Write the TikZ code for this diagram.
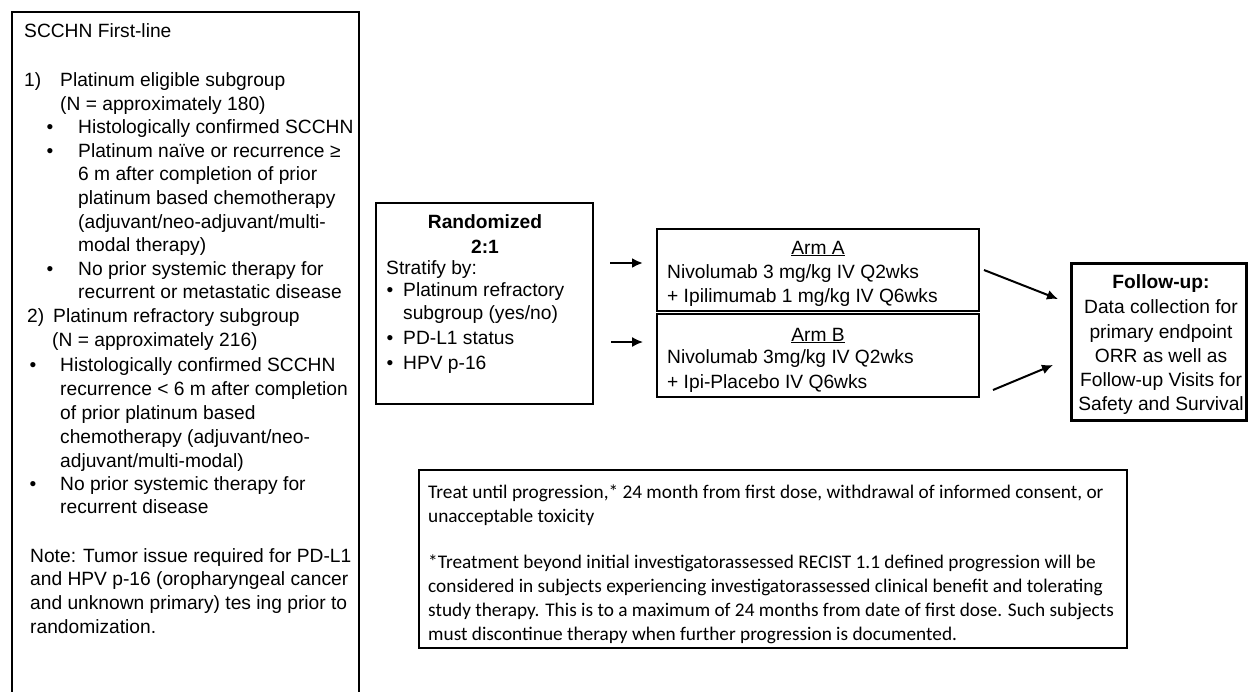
\documentclass[tikz,border=0pt]{standalone}
\usepackage{fontspec}
\setmainfont{Liberation Sans}
\newfontfamily\calfont{Carlito}
\usetikzlibrary{arrows.meta,fit}
\newcommand\ar{\fontsize{19.2}{23.6}\selectfont}
\newcommand\cb{\calfont\fontsize{19.3}{24}\selectfont}
\newcommand\Ln[4]{\node[txt] (#1) at (#2,#3) {#4};}
\newcommand\Bu[3]{\node[bul] (#1) at (#2,#3) {\textbullet};}
\newcommand\Cl[4]{\node[ctxt] (#1) at (#2,#3) {#4};}
\begin{document}
\begin{tikzpicture}[x=1pt,y=-1pt,
  box/.style={draw=black, line width=1.3pt, inner sep=0pt},
  txt/.style={inner sep=0pt, anchor=base west, font=\ar},
  txtc/.style={inner sep=0pt, anchor=base, font=\ar},
  bul/.style={inner sep=0pt, anchor=base, font=\ar},
  ctxt/.style={inner sep=0pt, anchor=base west, font=\cb},
  arr/.style={-{Latex[length=11pt,width=10pt]}, line width=2pt}]
\useasboundingbox (0,0) rectangle (1248,691);
\fill[white] (0,0) rectangle (1248,691);

% ---------- left eligibility box ----------
\node[box, fit={(12,12) (359,720)}] (elig) {};
\Ln{e0}{24}{37}{SCCHN First-line}
\Ln{e1n}{24}{86}{1)}
\Ln{e1}{60}{86}{Platinum eligible subgroup}
\Ln{e2}{60}{110}{(N = approximately 180)}
\Bu{b1}{50}{133}
\Ln{e3}{78}{133}{Histologically confirmed SCCHN}
\Bu{b2}{50}{157}
\Ln{e4}{78}{157}{Platinum naïve or recurrence ≥}
\Ln{e5}{78}{180}{6 m after completion of prior}
\Ln{e6}{78}{204}{platinum based chemotherapy}
\Ln{e7}{78}{228}{(adjuvant/neo-adjuvant/multi-}
\Ln{e8}{78}{251}{modal therapy)}
\Bu{b3}{50}{275}
\Ln{e9}{78}{275}{No prior systemic therapy for}
\Ln{e10}{78}{298}{recurrent or metastatic disease}
\Ln{e11n}{27}{322}{2)}
\Ln{e11}{53}{322}{Platinum refractory subgroup}
\Ln{e12}{52}{346}{(N = approximately 216)}
\Bu{b4}{33}{371}
\Ln{e13}{60}{371}{Histologically confirmed SCCHN}
\Ln{e14}{60}{395}{recurrence < 6 m after completion}
\Ln{e15}{60}{419}{of prior platinum based}
\Ln{e16}{60}{443}{chemotherapy (adjuvant/neo-}
\Ln{e17}{60}{467}{adjuvant/multi-modal)}
\Bu{b5}{33}{490}
\Ln{e18}{60}{490}{No prior systemic therapy for}
\Ln{e19}{60}{513}{recurrent disease}
\Ln{e20}{30}{562}{Note: Tumor issue required for PD-L1}
\Ln{e21}{30}{585}{and HPV p-16 (oropharyngeal cancer}
\Ln{e22}{30}{609}{and unknown primary) tes ing prior to}
\Ln{e23}{30}{633}{randomization.}

% ---------- randomization box ----------
\node[box, fit={(376,203) (593,404)}] (rand) {};
\node[txtc] (r0) at (485,228) {\bfseries Randomized};
\node[txtc] (r1) at (485,253) {\bfseries 2:1};
\Ln{r2}{386}{274}{Stratify by:}
\Bu{rb1}{390}{296}
\Ln{r3}{403}{296}{Platinum refractory}
\Ln{r4}{403}{319}{subgroup (yes/no)}
\Bu{rb2}{390}{344}
\Ln{r5}{403}{344}{PD-L1 status}
\Bu{rb3}{390}{369}
\Ln{r6}{403}{369}{HPV p-16}

% ---------- arms ----------
\node[box, fit={(657,229) (979,311)}] (armA) {};
\node[txtc] (a0) at (818,254) {\underline{Arm A}};
\Ln{a1}{667}{278}{Nivolumab 3 mg/kg IV Q2wks}
\Ln{a2}{667}{302}{+ Ipilimumab 1 mg/kg IV Q6wks}

\node[box, fit={(657,314) (979,397)}] (armB) {};
\node[txtc] (bb0) at (818,341) {\underline{Arm B}};
\Ln{bb1}{667}{363}{Nivolumab 3mg/kg IV Q2wks}
\Ln{bb2}{667}{388}{+ Ipi-Placebo IV Q6wks}

% ---------- follow-up ----------
\node[box, line width=3pt, fit={(1071,263) (1246,420)}] (fu) {};
\node[txtc] (f0) at (1161,288) {\bfseries Follow-up:};
\node[txtc] (f1) at (1161,313) {Data collection for};
\node[txtc] (f2) at (1161,338) {primary endpoint};
\node[txtc] (f3) at (1161,362) {ORR as well as};
\node[txtc] (f4) at (1161,386) {Follow-up Visits for};
\node[txtc] (f5) at (1161,410) {Safety and Survival};

% ---------- treatment note ----------
\node[box, fit={(419,470) (1127,648)}] (note) {};
\Cl{n1}{428}{498}{Treat until progression,* 24 month from first dose, withdrawal of informed consent, or}
\Cl{n2}{428}{522}{unacceptable toxicity}
\Cl{n3}{428}{568}{*Treatment beyond initial investigatorassessed RECIST 1.1 defined progression will be}
\Cl{n4}{428}{592}{considered in subjects experiencing investigatorassessed clinical benefit and tolerating}
\Cl{n5}{428}{616}{study therapy. This is to a maximum of 24 months from date of first dose. Such subjects}
\Cl{n6}{428}{640}{must discontinue therapy when further progression is documented.}

% ---------- arrows ----------
\coordinate (rA1) at (610,263);
\coordinate (rA2) at (643,263);
\coordinate (rB1) at (611,342);
\coordinate (rB2) at (643,342);
\coordinate (aF1) at (984,270);
\coordinate (aF2) at (1058,299);
\coordinate (bF1) at (993,390);
\coordinate (bF2) at (1053,365);
\draw[arr, line width=2.6pt] (rA1) -- (rA2);
\draw[arr, line width=1.5pt] (rB1) -- (rB2);
\draw[arr] (aF1) -- (aF2);
\draw[arr] (bF1) -- (bF2);
\end{tikzpicture}
\end{document}
